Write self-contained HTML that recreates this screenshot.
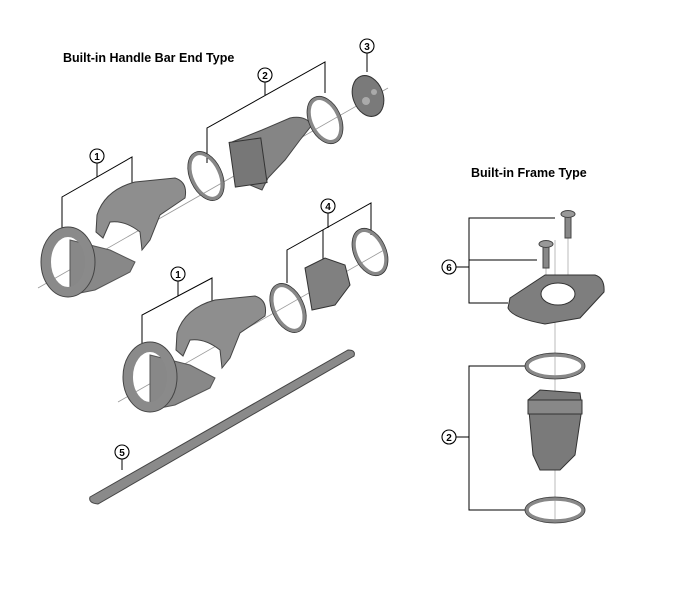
<!DOCTYPE html>
<html><head><style>
html,body{margin:0;padding:0;background:#fff;}
svg{display:block;}
text{font-family:"Liberation Sans",sans-serif;}
</style></head><body>
<svg width="690" height="604" viewBox="0 0 690 604" xmlns="http://www.w3.org/2000/svg">
<text x="63" y="62" font-size="12.5" font-weight="bold">Built-in Handle Bar End Type</text>
<text x="471" y="177" font-size="12.5" font-weight="bold">Built-in Frame Type</text>

<line x1="38" y1="288" x2="388" y2="88" stroke="#999" stroke-width="0.8"/>
<line x1="118" y1="402" x2="384" y2="250" stroke="#999" stroke-width="0.8"/>
<line x1="555" y1="240" x2="555" y2="520" stroke="#aaa" stroke-width="0.8"/>
<line x1="568" y1="235" x2="568" y2="275" stroke="#aaa" stroke-width="0.8"/>
<line x1="546" y1="265" x2="546" y2="318" stroke="#aaa" stroke-width="0.8"/>

<g stroke="#000" stroke-width="1" fill="none">
<polyline points="207,163 207,128 325,62 325,93"/><line x1="265" y1="82" x2="265" y2="95"/>
<polyline points="62,228 62,197 132,157 132,190"/><line x1="97" y1="163" x2="97" y2="177"/>
<polyline points="287,283 287,250 371,203 371,235"/><line x1="328" y1="213" x2="328" y2="228"/><line x1="323" y1="230" x2="323" y2="262"/>
<polyline points="142,345 142,315 212,278 212,310"/><line x1="178" y1="281" x2="178" y2="296"/>
<line x1="367" y1="53" x2="367" y2="72"/>
<line x1="122" y1="459" x2="122" y2="470"/>
<polyline points="555,218 469,218 469,303 508,303"/><line x1="469" y1="260" x2="537" y2="260"/><line x1="456" y1="267" x2="469" y2="267"/>
<polyline points="525,366 469,366 469,510 525,510"/><line x1="456" y1="437" x2="469" y2="437"/>
</g>
<g fill="#fff" stroke="#000" stroke-width="1.1">
<circle cx="367" cy="46" r="7"/><circle cx="265" cy="75" r="7"/><circle cx="97" cy="156" r="7"/>
<circle cx="328" cy="206" r="7"/><circle cx="178" cy="274" r="7"/><circle cx="122" cy="452" r="7"/>
<circle cx="449" cy="267" r="7"/><circle cx="449" cy="437" r="7"/>
</g>
<g font-size="10" font-weight="bold" text-anchor="middle">
<text x="367" y="50">3</text><text x="265" y="79">2</text><text x="97" y="160">1</text>
<text x="328" y="210">4</text><text x="178" y="278">1</text><text x="122" y="456">5</text>
<text x="449" y="271">6</text><text x="449" y="441">2</text>
</g>

<!-- upper assembly -->
<path d="M70,240 L110,250 L135,262 L130,272 L95,290 L70,295 Z" fill="#888" stroke="#555"/>
<ellipse cx="68" cy="262" rx="22" ry="30" fill="none" stroke="#8a8a8a" stroke-width="10"/>
<ellipse cx="68" cy="262" rx="27" ry="35" fill="none" stroke="#444" stroke-width="1"/>
<path d="M97,215 Q105,190 135,182 L175,178 Q188,182 185,198 L160,215 L150,240 L142,250 L140,232 Q125,220 110,222 L103,238 L96,232 Z" fill="#8e8e8e" stroke="#444"/>
<ellipse cx="206" cy="176" rx="14" ry="24" transform="rotate(-25 206 176)" fill="none" stroke="#888" stroke-width="3.5"/>
<ellipse cx="206" cy="176" rx="16" ry="26" transform="rotate(-25 206 176)" fill="none" stroke="#333" stroke-width="0.8"/>
<path d="M232,142 L262,130 L290,118 Q305,115 312,125 L300,140 L285,160 L268,178 L262,190 L238,180 Z" fill="#858585" stroke="#444"/>
<rect x="232" y="140" width="32" height="45" fill="#777" stroke="#333" transform="rotate(-8 248 162)"/>
<ellipse cx="325" cy="120" rx="14" ry="23" transform="rotate(-25 325 120)" fill="none" stroke="#888" stroke-width="3.5"/>
<ellipse cx="325" cy="120" rx="16" ry="25" transform="rotate(-25 325 120)" fill="none" stroke="#333" stroke-width="0.8"/>
<ellipse cx="368" cy="96" rx="15" ry="21" transform="rotate(-20 368 96)" fill="#7a7a7a" stroke="#333"/>
<circle cx="366" cy="101" r="4" fill="#aaa"/><circle cx="374" cy="92" r="3" fill="#aaa"/>

<!-- lower assembly -->
<path d="M150,355 L190,365 L215,378 L210,388 L175,405 L150,410 Z" fill="#888" stroke="#555"/>
<ellipse cx="150" cy="377" rx="22" ry="30" fill="none" stroke="#8a8a8a" stroke-width="10"/>
<ellipse cx="150" cy="377" rx="27" ry="35" fill="none" stroke="#444" stroke-width="1"/>
<path d="M177,333 Q185,308 215,300 L255,296 Q268,300 265,316 L240,333 L230,358 L222,368 L220,350 Q205,338 190,340 L183,356 L176,350 Z" fill="#8e8e8e" stroke="#444"/>
<ellipse cx="288" cy="308" rx="14" ry="24" transform="rotate(-25 288 308)" fill="none" stroke="#888" stroke-width="3.5"/>
<ellipse cx="288" cy="308" rx="16" ry="26" transform="rotate(-25 288 308)" fill="none" stroke="#333" stroke-width="0.8"/>
<path d="M305,268 L325,258 L345,265 L350,285 L335,305 L312,310 Z" fill="#808080" stroke="#333"/>
<ellipse cx="370" cy="252" rx="14" ry="23" transform="rotate(-25 370 252)" fill="none" stroke="#888" stroke-width="3.5"/>
<ellipse cx="370" cy="252" rx="16" ry="25" transform="rotate(-25 370 252)" fill="none" stroke="#333" stroke-width="0.8"/>

<!-- bar 5 -->
<path d="M90,497 L348,350 Q356,350 354,356 L98,504 Q88,503 90,497 Z" fill="#8a8a8a" stroke="#444"/>

<!-- right side -->
<rect x="565" y="214" width="6" height="24" fill="#888" stroke="#444"/><ellipse cx="568" cy="214" rx="7" ry="3.5" fill="#999" stroke="#444"/>
<rect x="543" y="244" width="6" height="24" fill="#888" stroke="#444"/><ellipse cx="546" cy="244" rx="7" ry="3.5" fill="#999" stroke="#444"/>
<path d="M510,298 L545,275 L595,275 Q605,278 604,292 L580,318 L545,324 Q512,318 508,308 Z" fill="#7e7e7e" stroke="#333"/>
<ellipse cx="558" cy="294" rx="17" ry="11" fill="#fff" stroke="#333"/>
<ellipse cx="555" cy="366" rx="28" ry="11" fill="none" stroke="#888" stroke-width="3.5"/>
<ellipse cx="555" cy="366" rx="30" ry="13" fill="none" stroke="#333" stroke-width="0.8"/>
<path d="M528,400 L540,390 L580,393 L582,408 L575,455 L560,470 L540,470 L533,455 Z" fill="#7a7a7a" stroke="#333"/>
<rect x="528" y="400" width="54" height="14" fill="#888" stroke="#333"/>
<ellipse cx="555" cy="510" rx="28" ry="11" fill="none" stroke="#888" stroke-width="3.5"/>
<ellipse cx="555" cy="510" rx="30" ry="13" fill="none" stroke="#333" stroke-width="0.8"/>
</svg>
</body></html>
